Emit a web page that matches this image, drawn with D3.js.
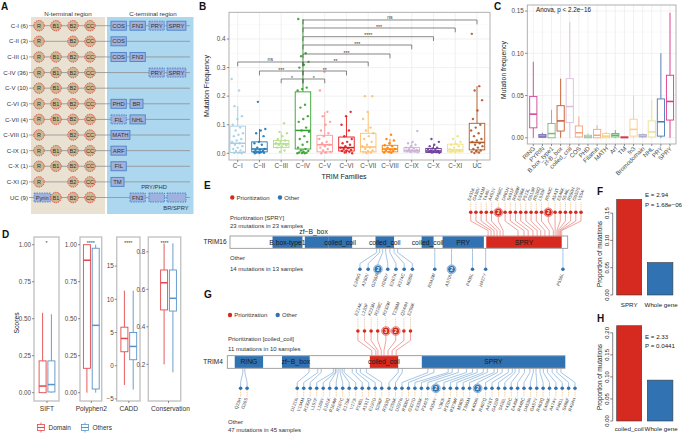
<!DOCTYPE html>
<html><head><meta charset="utf-8">
<script src="https://cdn.jsdelivr.net/npm/d3@7"></script>
<style>body{margin:0;background:#fff}svg{display:block}</style>
</head><body>
<svg id="fig" width="685" height="433"></svg>
<script>
// ================= DATA =================
// Panel A
const aRows = ["C-I (6)","C-II (3)","C-III (1)","C-IV (36)","C-V (10)","C-VI (3)","C-VII (4)","C-VIII (1)","C-IX (1)","C-X (1)","C-XI (2)","UC (9)"];
const aNterm = [["R","B1","B2","CC"],["R","","B2","CC"],["R","B1","B2","CC"],["R","B1","B2","CC"],["R","B1","B2","CC"],["R","B1","B2","CC"],["R","B1","B2","CC"],["R","","B2","CC"],["R","B1","B2","CC"],["R","B1","B2","CC"],["R","","B2","CC"],["Pyrin","B1","B2","CC"]];
// [name, column, dashed]
const aCterm = [
 [["COS",0,0],["FN3",1,0],["PRY",2,1],["SPRY",3,0]],
 [["COS",0,0]],
 [["COS",0,0],["FN3",1,0]],
 [["PRY",2,1],["SPRY",3,1]],
 [],
 [["PHD",0,0],["BR",1,0]],
 [["FIL",0,1],["NHL",1,0]],
 [["MATH",0,0]],
 [["ARF",0,0]],
 [["FIL",0,0]],
 [["TM",0,0]],
 [["FN3",1,1],["",2,1],["",3,1]]
];
// Panel B
const bFamilies = ["C\u2212I","C\u2212II","C\u2212III","C\u2212IV","C\u2212V","C\u2212VI","C\u2212VII","C\u2212VIII","C\u2212IX","C\u2212X","C\u2212XI","UC"];
const bColors = ["#a6cee3","#1f78b4","#b2df8a","#33a02c","#fb9a99","#e31a1c","#fdbf6f","#ff7f00","#cab2d6","#6a3d9a","#f0e27a","#b15928"];
const bLo  = [0,0,0,0,0,0,0,0,0,0,0,0];
const bQ1  = [0.003,0.005,0.02,0.015,0.005,0.008,0.005,0.005,0.005,0.003,0.005,0.012];
const bMed = [0.035,0.015,0.033,0.08,0.03,0.02,0.022,0.015,0.01,0.008,0.012,0.038];
const bQ3  = [0.095,0.04,0.045,0.215,0.063,0.057,0.07,0.028,0.02,0.017,0.032,0.105];
const bHi  = [0.165,0.085,0.075,0.47,0.145,0.13,0.145,0.05,0.04,0.03,0.045,0.235];
const bPoints = [
 [0.26,0.22,0.165,0.13,0.12,0.10,0.09,0.08,0.07,0.065,0.06,0.05,0.045,0.04,0.035,0.03,0.025,0.02,0.015,0.01,0.008,0.005,0.003,0.002,0.0],
 [0.18,0.085,0.08,0.07,0.06,0.04,0.035,0.03,0.02,0.015,0.012,0.01,0.008,0.006,0.005,0.004,0.003,0.002,0.001,0.0],
 [0.105,0.075,0.07,0.06,0.05,0.045,0.04,0.035,0.033,0.03,0.028,0.025,0.02,0.01,0.005],
 [0.47,0.35,0.34,0.32,0.31,0.30,0.23,0.225,0.22,0.17,0.16,0.13,0.12,0.11,0.09,0.08,0.075,0.06,0.05,0.04,0.03,0.02,0.015,0.01,0.008,0.005,0.003,0.002,0.001,0.0,0.0],
 [0.285,0.22,0.145,0.13,0.11,0.10,0.08,0.07,0.06,0.05,0.04,0.035,0.03,0.025,0.02,0.015,0.01,0.005,0.003,0.0],
 [0.145,0.13,0.10,0.08,0.06,0.05,0.04,0.035,0.03,0.025,0.02,0.018,0.015,0.012,0.01,0.008,0.005,0.003,0.0],
 [0.20,0.20,0.145,0.12,0.09,0.08,0.07,0.06,0.05,0.04,0.03,0.025,0.02,0.015,0.01,0.008,0.005,0.003,0.001],
 [0.065,0.05,0.045,0.035,0.028,0.025,0.02,0.015,0.012,0.01,0.008,0.005,0.003,0.002],
 [0.078,0.04,0.035,0.03,0.025,0.02,0.018,0.015,0.012,0.01,0.008,0.006,0.005,0.004],
 [0.05,0.04,0.03,0.025,0.02,0.017,0.015,0.012,0.01,0.008,0.006,0.005,0.004,0.003,0.002],
 [0.06,0.05,0.04,0.032,0.03,0.025,0.02,0.015,0.012,0.01,0.008,0.006,0.005],
 [0.418,0.235,0.22,0.186,0.15,0.12,0.10,0.09,0.08,0.07,0.06,0.05,0.045,0.04,0.035,0.03,0.025,0.02,0.015,0.01,0.008,0.005,0.003,0.001]
];
const bTicks = [0,0.1,0.2,0.3,0.4];
// comparisons: [group a, group b, label]
const bComparisons = [[2,3,"*"],[3,4,"*"],[1,3,"***"],[3,5,"**"],[0,3,"ns"],[3,6,"**"],[3,7,"***"],[3,8,"***"],[3,9,"****"],[3,10,"***"],[3,11,"ns"]];
const bBracketY = [0.26,0.26,0.288,0.288,0.3195,0.3195,0.3475,0.379,0.408,0.4385,0.4665];
// Panel C
const cDomains = ["RING","PYRIN","B.box_type1","zf-B_box","coiled_coil","COS","PHD","Filamin","MATH","Arf","TM","fn3","Bromodomain","NHL","PRY","SPRY"];
const cColors = ["#c9449a","#7b6bb5","#7fb77e","#c8582a","#d9c0da","#f2a57e","#9fc4a6","#f4a582","#f2d27a","#5cb85c","#e0315a","#fdcb8a","#a9a9d0","#ece08a","#4c78b4","#e3348a"];
const cLo  = [0,0,0,0,0,0,0,0,0,0,0,0,0,0,0,0];
const cQ1  = [0.0118,0.0005,0.0,0.008,0.018,0.001,0.0,0.0,0.0,0.001,0.0,0.002,0.001,0.001,0.002,0.021];
const cMed = [0.028,0.002,0.005,0.02,0.037,0.006,0.001,0.003,0.002,0.003,0.0005,0.01,0.002,0.007,0.019,0.043];
const cQ3  = [0.049,0.004,0.017,0.038,0.07,0.014,0.003,0.01,0.005,0.005,0.001,0.022,0.004,0.02,0.046,0.074];
const cHi  = [0.090,0.006,0.033,0.07,0.137,0.025,0.005,0.015,0.007,0.009,0.001,0.05,0.005,0.045,0.10,0.148];
const cTicks = [0,0.05,0.10,0.15];
// Panel D
const dMetrics = ["SIFT","Polyphen2","CADD","Conservation"];
const dGroups = ["Domain","Others"];
const dSignif = ["*","****","****","****"];
// [lo, q1, median, q3, hi]
const dDomain = [[0,0.0,0.045,0.215,0.54],[0,0.165,0.895,1.0,1.0],[-2.9,2.1,4.1,5.8,11.3],[0.2,0.49,0.635,0.703,0.845]];
const dOthers = [[0,0.005,0.055,0.215,0.53],[0,0.025,0.455,0.976,1.0],[-3.6,0.9,2.9,5.0,11.3],[0.157,0.484,0.552,0.703,0.845]];
const dTicks = [[0,0.25,0.5,0.75,1],[0,0.25,0.5,0.75,1],[-5,0,5,10,15],[0.2,0.4,0.6,0.8]];
// Panel E (TRIM16, 564 aa)
const eLength = 564;
const eDomains = ["B.box-type1","zf\u2212B_box","coiled_coil","coiled_coil","coiled_coil","PRY","SPRY"];
const eDomainStart = [71,125,164,243,320,355,428];
const eDomainEnd = [121,164,204,274,340,424,554];
const eDomainPrior = [0,0,0,0,0,0,1];
const ePriPos = [431,436,441,446,451,456,481,491,498,506,513,519,526,533,540,543,546,548,550,552,554];
const ePriCount = [1,1,1,1,1,2,1,1,1,1,1,1,1,1,2,1,1,1,1,1,1];
const ePriLabel = ["E431K","G436V","V441M","T446I","A451V","R456C","D481N","S491F","R498W","E506K","P513L","G519R","R526Q","L533F","R540C","A543T","E546K","S548L","R550H","G552S","V554I"];
const eOthPos = [245,250,255,260,267,274,280,342,370,405,427,556];
const eOthCount = [1,1,2,1,1,1,1,1,2,1,1,1];
const eOthLabel = ["E245G","A250V","G255R","H260Y","E267K","R274C","M280I","R342W","A370V","P405L","H427Y","P556L"];
// Panel G (TRIM4, 500 aa)
const gLength = 500;
const gDomains = ["RING","zf\u2212B_box","coiled_coil","SPRY"];
const gDomainStart = [11,81,211,288];
const gDomainEnd = [53,122,253,500];
const gDomainPrior = [0,0,1,0];
const gPriPos = [214,220,223,228,232,238,244,250];
const gPriCount = [1,1,1,1,3,2,1,1];
const gPriLabel = ["E214K","L220F","K223N","R228C","R232W","T238M","Q244H","E250K"];
const gOthPos = [23,26,121,134,139,157,160,161,164,167,170,173,185,191,197,206,253,259,297,306,327,333,342,354,363,370,379,385,395,400,407,416,422,426,432,440,448,453,457,463,468,474,481,488,494];
const gOthCount = [1,1,1,1,1,1,1,1,1,1,1,1,1,1,1,1,1,1,1,1,1,1,1,2,1,1,1,1,1,2,1,1,1,1,1,1,1,1,1,1,1,1,1,1,1];
const gOthLabel = ["Q23H","G26S","D121N","V134M","R139Q","L157F","L160V","E161K","R164W","R167C","E170K","V173I","P185L","A191T","E197D","S206F","R253Q","E259K","D297N","R306C","G327D","E333K","P342S","A354V","V363I","R370H","R379W","M385I","T395M","K400N","R407Q","A416T","G422R","S426L","Y432C","E440K","R448C","D453N","G457V","R463Q","E468K","A474V","P481L","S488F","R494H"];
// Panels F / H
const fCats = ["SPRY","Whole gene"];
const fValues = [0.175,0.0595];
const fTicks = [0,0.05,0.10,0.15];
const fStats = ["E = 2.94","P = 1.68e\u221206"];
const hCats = ["coiled_coil","Whole gene"];
const hValues = [0.216,0.0927];
const hTicks = [0,0.05,0.10,0.15,0.20];
const hStats = ["E = 2.33","P = 0.0441"];

// ================= DRAWING =================
const FONT = '"Liberation Sans", Arial, Helvetica, sans-serif';
const svg = d3.select("#fig").style("font-family", FONT);
const RED = "#d62a20", BLUE = "#3173b2";

function txt(g, x, y, s, size, o = {}) {
  const t = g.append("text").attr("x", x).attr("y", y).text(s)
    .attr("font-size", size).attr("fill", o.fill || "#222")
    .attr("text-anchor", o.anchor || "start");
  if (o.weight) t.attr("font-weight", o.weight);
  if (o.rotate !== undefined) t.attr("transform", `rotate(${o.rotate},${x},${y})`);
  return t;
}
function line(g, x1, y1, x2, y2, stroke, w, dash) {
  const l = g.append("line").attr("x1", x1).attr("y1", y1).attr("x2", x2).attr("y2", y2)
    .attr("stroke", stroke).attr("stroke-width", w);
  if (dash) l.attr("stroke-dasharray", dash);
  return l;
}
function boxplot(g, cx, w, ys, s, color, sw) {
  const [lo, q1, med, q3, hi] = s;
  line(g, cx, ys(lo), cx, ys(q1), color, sw);
  line(g, cx, ys(q3), cx, ys(hi), color, sw);
  g.append("rect").attr("x", cx - w / 2).attr("y", ys(q3)).attr("width", w)
    .attr("height", Math.max(0.6, ys(q1) - ys(q3))).attr("fill", "#fff")
    .attr("stroke", color).attr("stroke-width", sw);
  line(g, cx - w / 2, ys(med), cx + w / 2, ys(med), color, sw * 1.7);
}

// Panel letters
[["A",1,10],["B",199,10],["C",494,10],["D",2,238],["E",204,189],["F",597,195],["G",204,298],["H",597,322]]
  .forEach(([l, x, y]) => txt(svg, x, y, l, 10, { weight: "bold", fill: "#111" }));

// ---------- Panel A ----------
(function () {
  const g = svg.append("g");
  g.append("rect").attr("x", 31).attr("y", 17).attr("width", 74).attr("height", 197).attr("fill", "#e9e2d2");
  g.append("rect").attr("x", 107).attr("y", 17).attr("width", 86.5).attr("height", 197).attr("fill", "#acd7ee");
  txt(g, 68, 15.5, "N-terminal region", 6.2, { anchor: "middle", fill: "#333" });
  txt(g, 153, 15.5, "C-terminal region", 6.2, { anchor: "middle", fill: "#333" });
  const yA = d3.scalePoint().domain(aRows).range([25.7, 197.5]);
  const colX = d3.scalePoint().domain(d3.range(4)).range([39, 90]);
  const slotX = [111, 130, 149, 167], slotW = [15.7, 15.7, 15.5, 19];
  const boxFill = "#9fb1de", boxStroke = "#4a82c6";
  aRows.forEach((r, i) => {
    const y = yA(r);
    line(g, 29, y, 190, y, "#8f8f8f", 0.8);
    txt(g, 28, y + 2.1, r, 6.1, { anchor: "end", fill: "#333" });
    aNterm[i].forEach((d, j) => {
      if (!d) return;
      if (d === "Pyrin") {
        g.append("rect").attr("x", 34).attr("y", y - 4.5).attr("width", 16.5).attr("height", 9)
          .attr("fill", boxFill).attr("stroke", boxStroke).attr("stroke-width", 0.8).attr("stroke-dasharray", "1.5,1");
        txt(g, 42.2, y + 2, d, 5.6, { anchor: "middle", fill: "#333" });
      } else {
        g.append("circle").attr("cx", colX(j)).attr("cy", y).attr("r", 5.2)
          .attr("fill", "#cdb78f").attr("stroke", "#e0393e").attr("stroke-width", 0.9).attr("stroke-dasharray", "1.4,0.9");
        txt(g, colX(j), y + 2, d, 5.6, { anchor: "middle", fill: "#333" });
      }
    });
    aCterm[i].forEach(([name, slot, dashed]) => {
      const w = name ? Math.max(13, name.length * 3.6 + 4.5) : slotW[slot];
      const b = g.append("rect").attr("x", slotX[slot]).attr("y", y - 4.5).attr("width", w).attr("height", 9)
        .attr("fill", boxFill).attr("stroke", boxStroke).attr("stroke-width", 0.9);
      if (dashed) b.attr("stroke-dasharray", "1.5,1");
      if (name) txt(g, slotX[slot] + w / 2, y + 2.1, name, 5.9, { anchor: "middle", fill: "#333" });
    });
  });
  txt(g, 154, 189, "PRY/PHD", 5.8, { anchor: "middle", fill: "#333" });
  txt(g, 176, 209.5, "BR/SPRY", 5.8, { anchor: "middle", fill: "#333" });
})();

// ---------- Panel B ----------
(function () {
  const g = svg.append("g");
  const X0 = 229, X1 = 490, Y0 = 12.3, Y1 = 160;
  const x = d3.scalePoint().domain(bFamilies).range([237.7, 477]);
  const y = d3.scaleLinear().domain([0, 0.4]).range([153.3, 39]);
  g.append("rect").attr("x", X0).attr("y", Y0).attr("width", X1 - X0).attr("height", Y1 - Y0).attr("fill", "#fff");
  [0.05, 0.15, 0.25, 0.35, 0.45].forEach(v => line(g, X0, y(v), X1, y(v), "#f3f3f3", 0.4));
  bTicks.forEach(v => line(g, X0, y(v), X1, y(v), "#e8e8e8", 0.6));
  bFamilies.forEach(f => line(g, x(f), Y0, x(f), Y1, "#e8e8e8", 0.6));
  bFamilies.forEach((f, i) => {
    boxplot(g, x(f), 15.5, y, [bLo[i], bQ1[i], bMed[i], bQ3[i], bHi[i]], bColors[i], 0.9);
  });
  bFamilies.forEach((f, i) => {
    bPoints[i].forEach((v, k) => {
      const off = (((k * 0.6180339 + i * 0.37) % 1) - 0.5) * 12;
      g.append("circle").attr("cx", x(f) + off).attr("cy", y(v)).attr("r", 1.2)
        .attr("fill", bColors[i]).attr("opacity", 0.9);
    });
  });
  // significance brackets
  bComparisons.forEach(([a, b, lab], k) => {
    const xa = x(bFamilies[a]), xb = x(bFamilies[b]), yy = y(bBracketY[k]);
    const p = d3.path();
    p.moveTo(xa, yy + 4.3); p.lineTo(xa, yy); p.lineTo(xb, yy); p.lineTo(xb, yy + 4.3);
    g.append("path").attr("d", p.toString()).attr("fill", "none").attr("stroke", "#555").attr("stroke-width", 0.7);
    txt(g, (xa + xb) / 2, yy - (lab === "ns" ? 1.2 : -0.6), lab, 5.2, { anchor: "middle", fill: "#333" });
  });
  g.append("rect").attr("x", X0).attr("y", Y0).attr("width", X1 - X0).attr("height", Y1 - Y0)
    .attr("fill", "none").attr("stroke", "#a8a8a8").attr("stroke-width", 0.9);
  bTicks.forEach(v => {
    line(g, X0 - 2.2, y(v), X0, y(v), "#444", 0.6);
    txt(g, X0 - 3.5, y(v) + 2.2, d3.format(".1f")(v), 6.3, { anchor: "end", fill: "#4d4d4d" });
  });
  bFamilies.forEach(f => {
    line(g, x(f), Y1, x(f), Y1 + 2.2, "#444", 0.6);
    txt(g, x(f), Y1 + 8.2, f, 6.3, { anchor: "middle", fill: "#4d4d4d" });
  });
  txt(g, 209, 86, "Mutation Frequency", 7, { anchor: "middle", rotate: -90 });
  txt(g, 344, 179, "TRIM Families", 7, { anchor: "middle" });
})();

// ---------- Panel C ----------
(function () {
  const g = svg.append("g");
  const X0 = 527.3, X1 = 676, Y0 = 5, Y1 = 144;
  const x = d3.scalePoint().domain(cDomains).range([533.3, 670]);
  const y = d3.scaleLinear().domain([0, 0.15]).range([137.8, 11.05]);
  [0.025, 0.075, 0.125].forEach(v => line(g, X0, y(v), X1, y(v), "#f3f3f3", 0.4));
  cTicks.forEach(v => line(g, X0, y(v), X1, y(v), "#e8e8e8", 0.6));
  cDomains.forEach(d => line(g, x(d), Y0, x(d), Y1, "#e8e8e8", 0.6));
  cDomains.forEach((d, i) => boxplot(g, x(d), 7.2, y, [cLo[i], cQ1[i], cMed[i], cQ3[i], cHi[i]], cColors[i], 0.9));
  g.append("rect").attr("x", X0).attr("y", Y0).attr("width", X1 - X0).attr("height", Y1 - Y0)
    .attr("fill", "none").attr("stroke", "#a8a8a8").attr("stroke-width", 0.9);
  cTicks.forEach(v => {
    line(g, X0 - 2.2, y(v), X0, y(v), "#444", 0.6);
    txt(g, X0 - 3.5, y(v) + 2.2, d3.format(".2f")(v), 6.3, { anchor: "end", fill: "#4d4d4d" });
  });
  cDomains.forEach(d => {
    line(g, x(d), Y1, x(d), Y1 + 2, "#444", 0.6);
    txt(g, x(d) + 2.4, Y1 + 5, d, 6.1, { anchor: "end", fill: "#4d4d4d", rotate: -45 });
  });
  txt(g, 536, 12.2, "Anova, p < 2.2e\u221216", 6.3, { fill: "#222" });
  txt(g, 506, 70, "Mutation frequency", 6.8, { anchor: "middle", rotate: -90 });
})();

// ---------- Panel D ----------
(function () {
  const g = svg.append("g");
  const fx0 = [34, 80, 116.7, 148.3], fx1 = [59, 101.7, 140, 180.7];
  const centers = [47, 91.3, 128.8, 168.5];
  const FY0 = 237, FY1 = 401;
  const scales = [
    d3.scaleLinear().domain([0, 1]).range([392.7, 244.7]),
    d3.scaleLinear().domain([0, 1]).range([392.7, 244.7]),
    d3.scaleLinear().domain([0, 15]).range([365.7, 266.1]),
    d3.scaleLinear().domain([0.2, 0.8]).range([364.3, 251.8])
  ];
  const fmts = [d3.format(".2f"), d3.format(".2f"), d3.format("d"), d3.format(".1f")];
  const dRed = "#e3474b", dBlue = "#5a93c8";
  dMetrics.forEach((m, i) => {
    boxplot(g, centers[i] - 4.4, 7, scales[i], dDomain[i], dRed, 0.9);
    boxplot(g, centers[i] + 4.4, 7, scales[i], dOthers[i], dBlue, 0.9);
    g.append("rect").attr("x", fx0[i]).attr("y", FY0).attr("width", fx1[i] - fx0[i]).attr("height", FY1 - FY0)
      .attr("fill", "none").attr("stroke", "#c4c4c4").attr("stroke-width", 1.4);
    txt(g, (fx0[i] + fx1[i]) / 2, 245, dSignif[i], 5.2, { anchor: "middle", fill: "#333" });
    dTicks[i].forEach(v => {
      const yy = scales[i](v);
      line(g, fx0[i] - 2, yy, fx0[i], yy, "#444", 0.6);
      txt(g, fx0[i] - 3, yy + 2.2, fmts[i](v), 6.3, { anchor: "end", fill: "#4d4d4d" });
    });
    line(g, centers[i], FY1, centers[i], FY1 + 2, "#444", 0.6);
    txt(g, centers[i] + (i === 3 ? 2 : 0), FY1 + 10, m, 6.6, { anchor: "middle", fill: "#333" });
  });
  txt(g, 19, 323, "Scores", 6.8, { anchor: "middle", rotate: -90 });
  // legend
  [[37.5, dRed, dGroups[0], 48.5], [81.5, dBlue, dGroups[1], 92.5]].forEach(([lx, col, lab, tx]) => {
    line(g, lx + 3.5, 422.5, lx + 3.5, 432.5, col, 0.8);
    g.append("rect").attr("x", lx).attr("y", 424.5).attr("width", 7).attr("height", 6).attr("fill", "#fff").attr("stroke", col).attr("stroke-width", 0.8);
    line(g, lx, 427.5, lx + 7, 427.5, col, 1.1);
    txt(g, tx, 430, lab, 6.5, { fill: "#333" });
  });
})();

// ---------- Lollipop panels (E, G) ----------
function layoutDots(xs, counts, gap, lo, hi) {
  const p = xs.slice(), n = p.length;
  const need = i => gap + (counts[i - 1] > 1 ? 1.6 : 0) + (counts[i] > 1 ? 1.6 : 0);
  for (let it = 0; it < 800; it++) {
    for (let i = 1; i < n; i++) {
      const d = p[i] - p[i - 1], gg = need(i);
      if (d < gg) { const s = (gg - d) / 2; p[i - 1] -= s; p[i] += s; }
    }
    for (let i = 0; i < n; i++) p[i] = Math.max(lo, Math.min(hi, p[i]));
  }
  return p;
}
function lollipop(cfg) {
  const g = svg.append("g");
  const xs = d3.scaleLinear().domain([0, cfg.length]).range([cfg.x0, cfg.x1]);
  const yTop = cfg.y0, yBot = cfg.y0 + cfg.h;
  // tracks (lines first)
  cfg.tracks.forEach(t => {
    const base = t.pos.map(p => xs(p));
    const dx = layoutDots(base, t.counts, t.gap, t.lo, t.hi);
    const col = t.prior ? RED : BLUE, lcol = t.prior ? "#ea7b76" : "#80acd8";
    const edge = t.side === "top" ? yTop : yBot;
    base.forEach((bx, i) => {
      const p = d3.path();
      p.moveTo(bx, edge); p.lineTo(bx, t.y1); p.lineTo(dx[i], t.y2); p.lineTo(dx[i], t.dotY);
      g.append("path").attr("d", p.toString()).attr("fill", "none").attr("stroke", lcol).attr("stroke-width", 0.7);
      if (t.dashTo !== undefined) line(g, dx[i], t.dotY, dx[i], t.dashTo, "#e2a55e", 0.6, "1,0.8");
    });
    dx.forEach((x, i) => {
      if (t.counts[i] > 1) {
        g.append("circle").attr("cx", x).attr("cy", t.dotY).attr("r", 4).attr("fill", col).attr("stroke", "#fff").attr("stroke-width", 0.7);
        g.append("circle").attr("cx", x).attr("cy", t.dotY).attr("r", 4.4).attr("fill", "none").attr("stroke", col).attr("stroke-width", 0.5);
        txt(g, x, t.dotY + 1.7, String(t.counts[i]), 4.8, { anchor: "middle", fill: "#fff", weight: "bold" });
      } else {
        g.append("circle").attr("cx", x).attr("cy", t.dotY).attr("r", 1.8).attr("fill", col);
      }
      if (t.side === "top") txt(g, x - 0.6, t.labelY, t.labels[i], 4.5, { fill: "#444", rotate: -70 });
      else txt(g, x + 0.8, t.labelY, t.labels[i], 4.5, { fill: "#444", anchor: "end", rotate: -70 });
    });
  });
  // protein bar
  g.append("rect").attr("x", cfg.x0).attr("y", yTop).attr("width", cfg.x1 - cfg.x0).attr("height", cfg.h)
    .attr("fill", "#fff").attr("stroke", "#8a8a8a").attr("stroke-width", 0.8);
  cfg.domains.forEach((d, i) => {
    g.append("rect").attr("x", xs(cfg.start[i])).attr("y", yTop + 0.4)
      .attr("width", xs(cfg.end[i]) - xs(cfg.start[i])).attr("height", cfg.h - 0.8)
      .attr("fill", cfg.prior[i] ? RED : BLUE);
  });
  cfg.domains.forEach((d, i) => {
    const cx = (xs(cfg.start[i]) + xs(cfg.end[i])) / 2;
    if (cfg.above[i]) txt(g, cx - 3, yTop - 1.8, d, 6.8, { anchor: "middle", fill: "#222" });
    else txt(g, cx, yTop + cfg.h / 2 + 2.4, d, 6.8, { anchor: "middle", fill: "#1a1a1a" });
  });
  txt(g, cfg.nameX, yTop + cfg.h / 2 + 2.3, cfg.name, 6.5, { anchor: "middle", fill: "#222" });
  // legend & texts
  const L = cfg.legendY;
  g.append("circle").attr("cx", cfg.legendX).attr("cy", L).attr("r", 2.2).attr("fill", RED);
  txt(g, cfg.legendX + 4.3, L + 2.1, "Prioritization", 6, { fill: "#333" });
  g.append("circle").attr("cx", cfg.legendX + 47.7).attr("cy", L).attr("r", 2.2).attr("fill", BLUE);
  txt(g, cfg.legendX + 52, L + 2.1, "Other", 6, { fill: "#333" });
  cfg.texts.forEach(([s, x, y]) => txt(g, x, y, s, 6, { fill: "#333" }));
}

lollipop({
  name: "TRIM16", nameX: 215, length: eLength, x0: 230, x1: 567.7, y0: 236, h: 12.3,
  domains: eDomains, start: eDomainStart, end: eDomainEnd, prior: eDomainPrior, above: [0, 1, 0, 0, 0, 0, 0],
  legendX: 232.3, legendY: 197.5,
  texts: [["Prioritization [SPRY]", 230, 219.5], ["23 mutations in 23 samples", 230, 227.7],
          ["Other", 230, 259.5], ["14 mutations in 13 samples", 230, 270.5]],
  tracks: [
    { side: "top", prior: 1, pos: ePriPos, counts: ePriCount, labels: ePriLabel, gap: 5.2, lo: 232, hi: 581,
      y1: 230.5, y2: 221, dotY: 212.3, dashTo: 202.5, labelY: 201 },
    { side: "bottom", prior: 0, pos: eOthPos, counts: eOthCount, labels: eOthLabel, gap: 8.2, lo: 232, hi: 581,
      y1: 252.5, y2: 263.5, dotY: 269.3, labelY: 274 }
  ]
});
lollipop({
  name: "TRIM4", nameX: 213, length: gLength, x0: 227.3, x1: 565, y0: 355.7, h: 12.6,
  domains: gDomains, start: gDomainStart, end: gDomainEnd, prior: gDomainPrior, above: [0, 0, 0, 0],
  legendX: 230, legendY: 315,
  texts: [["Prioritization [coiled_coil]", 228, 341], ["11 mutations in 10 samples", 228, 350.5],
          ["Other", 228, 424], ["47 mutations in 45 samples", 228, 431.5]],
  tracks: [
    { side: "top", prior: 1, pos: gPriPos, counts: gPriCount, labels: gPriLabel, gap: 6.6, lo: 230, hi: 580,
      y1: 350.5, y2: 340.5, dotY: 331, dashTo: 317.5, labelY: 316 },
    { side: "bottom", prior: 0, pos: gOthPos, counts: gOthCount, labels: gOthLabel, gap: 6.5, lo: 236, hi: 575,
      y1: 372.5, y2: 382.5, dotY: 388.3, dashTo: 397, labelY: 398.5 }
  ]
});

// ---------- Panels F, H ----------
function barPanel(cats, vals, ticks, stats, y0px, pxPerUnit, labY, statY, titleY) {
  const g = svg.append("g");
  const y = d3.scaleLinear().domain([0, 1]).range([y0px, y0px - pxPerUnit]);
  const bx = [[616.7, 641.7], [647.3, 672.9]];
  cats.forEach((c, i) => {
    g.append("rect").attr("x", bx[i][0]).attr("y", y(vals[i])).attr("width", bx[i][1] - bx[i][0])
      .attr("height", y(0) - y(vals[i])).attr("fill", i === 0 ? RED : BLUE).attr("stroke", "#3a3a3a").attr("stroke-width", 0.6);
    txt(g, (bx[i][0] + bx[i][1]) / 2 + (i === 1 ? 1 : 0), labY, c, 6.2, { anchor: "middle", fill: "#222" });
  });
  const ax = 612.7;
  line(g, ax, y(ticks[0]), ax, y(ticks[ticks.length - 1]), "#333", 0.6);
  ticks.forEach(v => {
    line(g, ax - 2.5, y(v), ax, y(v), "#333", 0.6);
    txt(g, ax - 4, y(v), d3.format(".2f")(v), 6, { anchor: "middle", fill: "#222", rotate: -90 });
  });
  txt(g, 602, titleY, "Proportion of mutations", 6.4, { anchor: "middle", fill: "#222", rotate: -90 });
  txt(g, 645, statY, stats[0], 6.2, { fill: "#222" });
  txt(g, 645, statY + 9.5, stats[1], 6.2, { fill: "#222" });
}
barPanel(fCats, fValues, fTicks, fStats, 295, 546, 307, 197, 254);
barPanel(hCats, hValues, hTicks, hStats, 421, 441, 431, 338.5, 377);
</script>
</body></html>
